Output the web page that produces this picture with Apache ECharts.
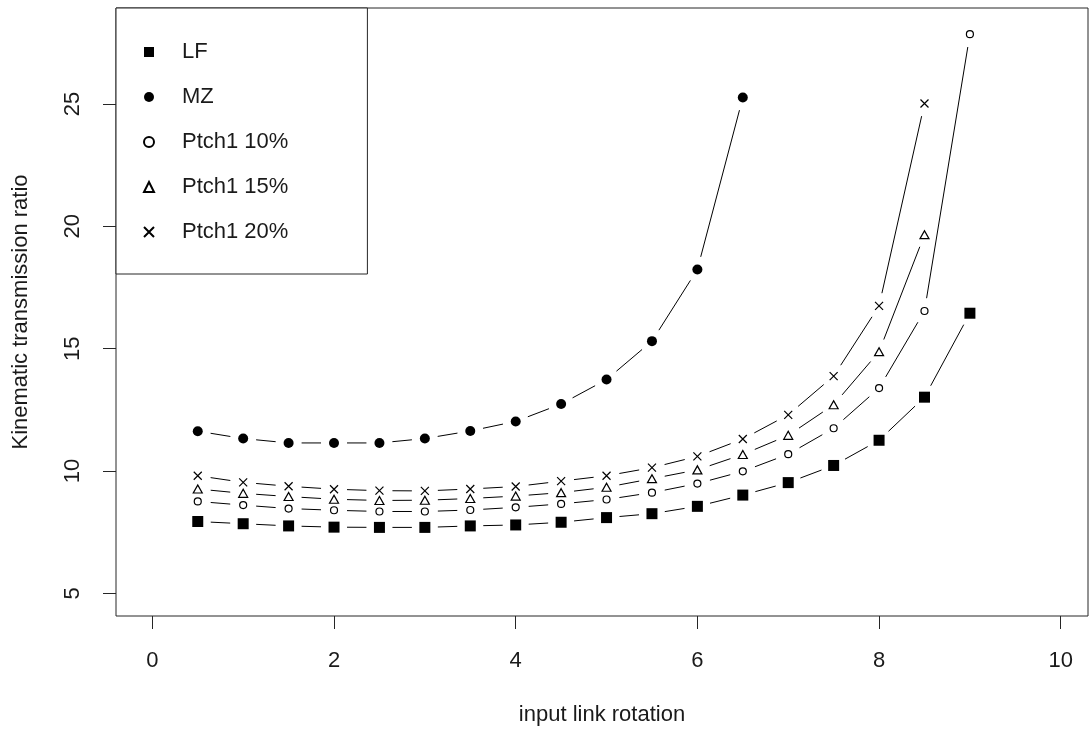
<!DOCTYPE html>
<html>
<head>
<meta charset="utf-8">
<title>Kinematic transmission ratio</title>
<script src="https://cdn.jsdelivr.net/npm/echarts@6/dist/echarts.min.js"></script>
<style>
  html, body { margin: 0; padding: 0; background: #fff; }
  #chart { width: 1089px; height: 731px; }
</style>
</head>
<body>
<div id="chart"></div>
<script>
// input link rotation, shared by all curves
var xValues = [0.5, 1, 1.5, 2, 2.5, 3, 3.5, 4, 4.5, 5, 5.5, 6, 6.5, 7, 7.5, 8, 8.5, 9]

// kinematic transmission ratio per mechanism
var lf = [7.94, 7.85, 7.76, 7.71, 7.70, 7.70, 7.76, 7.80, 7.91, 8.10, 8.26, 8.56, 9.02, 9.53, 10.23, 11.26, 13.02, 16.45]
var mz = [11.63, 11.33, 11.15, 11.15, 11.15, 11.33, 11.64, 12.03, 12.74, 13.74, 15.31, 18.24, 25.26]
var ptch10 = [8.76, 8.61, 8.47, 8.40, 8.35, 8.35, 8.41, 8.52, 8.66, 8.84, 9.12, 9.49, 9.99, 10.69, 11.75, 13.39, 16.54, 27.85]
var ptch15 = [9.27, 9.09, 8.96, 8.85, 8.80, 8.81, 8.88, 8.98, 9.12, 9.34, 9.69, 10.05, 10.68, 11.46, 12.71, 14.88, 19.66]
var ptch20 = [9.81, 9.54, 9.38, 9.26, 9.20, 9.19, 9.27, 9.37, 9.59, 9.81, 10.14, 10.60, 11.31, 12.30, 13.88, 16.75, 25.02]

var xTicks = [0, 2, 4, 6, 8, 10]
var yTicks = [5, 10, 15, 20, 25]

var FONT = '"Liberation Sans", Arial, sans-serif'
var INK = '#1a1a1a'
var GAP = 13 // R type="b": segments stop short of each point

var hollow = { color: 'rgba(0,0,0,0)', borderColor: '#000', borderWidth: 1.2, opacity: 1 }
var solid = { color: '#000', opacity: 1 }

var curves = [
  { name: 'LF', values: lf, symbol: 'rect', size: 11, style: solid },
  { name: 'MZ', values: mz, symbol: 'circle', size: 10, style: solid },
  { name: 'Ptch1 10%', values: ptch10, symbol: 'circle', size: 7, style: hollow },
  { name: 'Ptch1 15%', values: ptch15, symbol: 'triangle', size: [9, 8], style: hollow },
  { name: 'Ptch1 20%', values: ptch20, symbol: 'path://M0,0L10,10M10,0L0,10', size: 8, style: hollow }
]

function points(values) {
  return values.map(function (v, i) { return [xValues[i], v] })
}

function segmentSeries(c) {
  var data = points(c.values)
  return {
    name: c.name + ' line',
    type: 'custom',
    data: data,
    encode: { x: 0, y: 1 },
    silent: true,
    z: 1,
    renderItem: function (params, api) {
      var i = params.dataIndex
      if (i === 0) return null
      var a = api.coord(data[i - 1])
      var b = api.coord(data[i])
      var dx = b[0] - a[0]
      var dy = b[1] - a[1]
      var len = Math.sqrt(dx * dx + dy * dy)
      if (len <= 2 * GAP) return null
      var ux = dx / len
      var uy = dy / len
      return {
        type: 'line',
        shape: {
          x1: a[0] + ux * GAP, y1: a[1] + uy * GAP,
          x2: b[0] - ux * GAP, y2: b[1] - uy * GAP
        },
        style: { stroke: '#000', lineWidth: 1 }
      }
    }
  }
}

function markerSeries(c) {
  return {
    name: c.name,
    type: 'scatter',
    data: points(c.values),
    symbol: c.symbol,
    symbolSize: c.size,
    itemStyle: c.style,
    z: 3,
    silent: true
  }
}

var series = []
curves.forEach(function (c) {
  series.push(segmentSeries(c))
  series.push(markerSeries(c))
})

var chart = echarts.init(document.getElementById('chart'))
chart.setOption({
  animation: false,
  backgroundColor: '#fff',
  textStyle: { fontFamily: FONT },
  grid: {
    left: 116, top: 8, right: 1, bottom: 113,
    show: true, borderColor: '#262626', borderWidth: 1
  },
  xAxis: {
    type: 'value',
    min: -0.4,
    max: 10.3,
    name: 'input link rotation',
    nameLocation: 'middle',
    nameGap: 88,
    nameTextStyle: { fontSize: 22, color: INK, fontFamily: FONT },
    axisLine: { show: false, onZero: false },
    splitLine: { show: false },
    axisTick: { show: true, length: 13, lineStyle: { color: '#262626' }, customValues: xTicks },
    axisLabel: { fontSize: 22, color: INK, margin: 34, fontFamily: FONT, customValues: xTicks }
  },
  yAxis: {
    type: 'value',
    min: 4.08,
    max: 28.92,
    name: 'Kinematic transmission ratio',
    nameLocation: 'middle',
    nameRotate: 90,
    nameGap: 84,
    nameTextStyle: { fontSize: 22, color: INK, fontFamily: FONT },
    axisLine: { show: false, onZero: false },
    splitLine: { show: false },
    axisTick: { show: true, length: 13, lineStyle: { color: '#262626' }, customValues: yTicks },
    axisLabel: { fontSize: 22, color: INK, margin: 32, rotate: 90, fontFamily: FONT, customValues: yTicks }
  },
  legend: {
    orient: 'vertical',
    left: 116,
    top: 8,
    padding: [33, 79, 31, 27],
    itemGap: 23,
    itemWidth: 10,
    itemHeight: 10,
    borderColor: '#262626',
    borderWidth: 1,
    borderRadius: 0,
    backgroundColor: '#fff',
    selectedMode: false,
    textStyle: { fontSize: 22, color: INK, fontFamily: FONT, padding: [0, 0, 0, 23] },
    data: curves.map(function (c) { return c.name })
  },
  series: series
})
</script>
</body>
</html>
